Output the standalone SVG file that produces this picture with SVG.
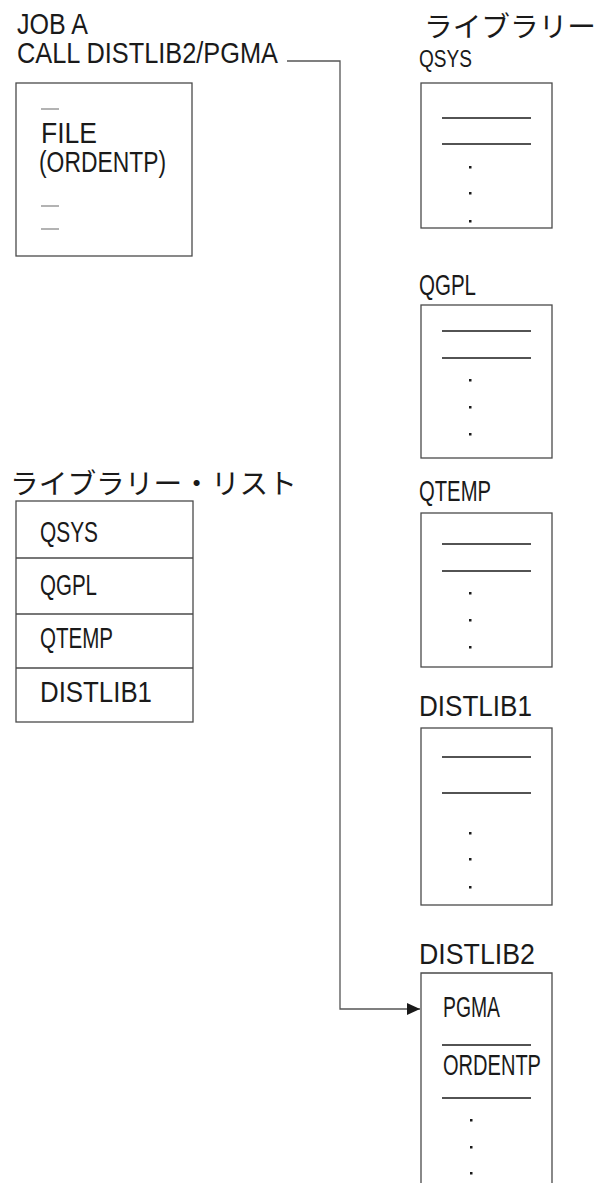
<svg xmlns="http://www.w3.org/2000/svg" width="597" height="1183" viewBox="0 0 597 1183">
<defs>
<style>
.t{font-family:"Liberation Sans",Arial,sans-serif;font-size:30px;fill:#1a1a1a}
.p{font-family:"Liberation Sans",Arial,sans-serif;font-size:23px;fill:#1a1a1a}
.j{font-family:"Noto Sans CJK JP","Noto Sans CJK SC",sans-serif;font-size:28px;fill:#1a1a1a}
.box{fill:#fff;stroke:#4a4a4a;stroke-width:1.3}
.ln{stroke:#1a1a1a;stroke-width:1.6}
.dash{stroke:#8a8a8a;stroke-width:1.3}
.dot{fill:#1a1a1a}
.conn{fill:none;stroke:#555;stroke-width:1.3}
</style>
<marker id="arr" markerWidth="14" markerHeight="12" refX="13" refY="6" orient="auto" markerUnits="userSpaceOnUse">
<path d="M0,0 L13,6 L0,12 Z" fill="#1a1a1a"/>
</marker>
</defs>
<rect width="597" height="1183" fill="#fff"/>

<g id="connectors">
<path class="conn" d="M287,61 H340 V1009 H420" marker-end="url(#arr)"/>
</g>

<g id="job">
<text class="t" x="17" y="34" textLength="71" lengthAdjust="spacingAndGlyphs">JOB A</text>
<text class="t" x="17" y="63" textLength="261" lengthAdjust="spacingAndGlyphs">CALL DISTLIB2/PGMA</text>
<rect class="box" x="16" y="83" width="176" height="173"/>
<line class="dash" x1="41" y1="109" x2="59" y2="109"/>
<text class="t" x="41" y="143" textLength="56" lengthAdjust="spacingAndGlyphs">FILE</text>
<text class="t" x="39" y="172" textLength="127" lengthAdjust="spacingAndGlyphs">(ORDENTP)</text>
<line class="dash" x1="41" y1="206" x2="59" y2="206"/>
<line class="dash" x1="41" y1="229" x2="59" y2="229"/>
</g>

<g id="liblist">
<text class="j" x="10" y="494" textLength="287" lengthAdjust="spacingAndGlyphs">ライブラリー・リスト</text>
<rect class="box" x="16" y="501" width="177" height="221"/>
<line class="box" x1="16" y1="558" x2="193" y2="558"/>
<line class="box" x1="16" y1="614" x2="193" y2="614"/>
<line class="box" x1="16" y1="668" x2="193" y2="668"/>
<text class="t" x="40" y="542" textLength="58" lengthAdjust="spacingAndGlyphs">QSYS</text>
<text class="t" x="40" y="595" textLength="57" lengthAdjust="spacingAndGlyphs">QGPL</text>
<text class="t" x="40" y="648" textLength="73" lengthAdjust="spacingAndGlyphs">QTEMP</text>
<text class="t" x="40" y="702" textLength="112" lengthAdjust="spacingAndGlyphs">DISTLIB1</text>
</g>

<g id="lib-qsys">
<text class="j" x="424" y="37" textLength="172" lengthAdjust="spacingAndGlyphs">ライブラリー</text>
<text class="p" x="419" y="67" textLength="53" lengthAdjust="spacingAndGlyphs">QSYS</text>
<rect class="box" x="421" y="83" width="131" height="145"/>
<line class="ln" x1="442" y1="118" x2="531" y2="118"/>
<line class="ln" x1="442" y1="144" x2="531" y2="144"/>
<rect class="dot" x="469" y="166" width="2.5" height="2.5"/>
<rect class="dot" x="469" y="192" width="2.5" height="2.5"/>
<rect class="dot" x="469" y="220" width="2.5" height="2.5"/>
</g>

<g id="lib-qgpl">
<text class="t" x="419" y="295" textLength="57" lengthAdjust="spacingAndGlyphs">QGPL</text>
<rect class="box" x="421" y="305" width="131" height="153"/>
<line class="ln" x1="442" y1="331" x2="531" y2="331"/>
<line class="ln" x1="442" y1="358" x2="531" y2="358"/>
<rect class="dot" x="469" y="379" width="2.5" height="2.5"/>
<rect class="dot" x="469" y="406" width="2.5" height="2.5"/>
<rect class="dot" x="469" y="433" width="2.5" height="2.5"/>
</g>

<g id="lib-qtemp">
<text class="t" x="419" y="501" textLength="72" lengthAdjust="spacingAndGlyphs">QTEMP</text>
<rect class="box" x="421" y="513" width="131" height="154"/>
<line class="ln" x1="442" y1="544" x2="531" y2="544"/>
<line class="ln" x1="442" y1="571" x2="531" y2="571"/>
<rect class="dot" x="469" y="592" width="2.5" height="2.5"/>
<rect class="dot" x="469" y="619" width="2.5" height="2.5"/>
<rect class="dot" x="469" y="646" width="2.5" height="2.5"/>
</g>

<g id="lib-distlib1">
<text class="t" x="419" y="716" textLength="113" lengthAdjust="spacingAndGlyphs">DISTLIB1</text>
<rect class="box" x="421" y="728" width="131" height="177"/>
<line class="ln" x1="442" y1="757" x2="531" y2="757"/>
<line class="ln" x1="442" y1="793" x2="531" y2="793"/>
<rect class="dot" x="469" y="832" width="2.5" height="2.5"/>
<rect class="dot" x="469" y="858" width="2.5" height="2.5"/>
<rect class="dot" x="469" y="886" width="2.5" height="2.5"/>
</g>

<g id="lib-distlib2">
<text class="t" x="419" y="964" textLength="116" lengthAdjust="spacingAndGlyphs">DISTLIB2</text>
<path class="box" d="M421,1190 V973 H552 V1190"/>
<text class="t" x="443" y="1017" textLength="57" lengthAdjust="spacingAndGlyphs">PGMA</text>
<line class="ln" x1="442" y1="1045" x2="531" y2="1045"/>
<text class="t" x="443" y="1075" textLength="98" lengthAdjust="spacingAndGlyphs">ORDENTP</text>
<line class="ln" x1="442" y1="1098" x2="531" y2="1098"/>
<rect class="dot" x="470" y="1119" width="2.5" height="2.5"/>
<rect class="dot" x="470" y="1146" width="2.5" height="2.5"/>
<rect class="dot" x="470" y="1172" width="2.5" height="2.5"/>
</g>
</svg>
